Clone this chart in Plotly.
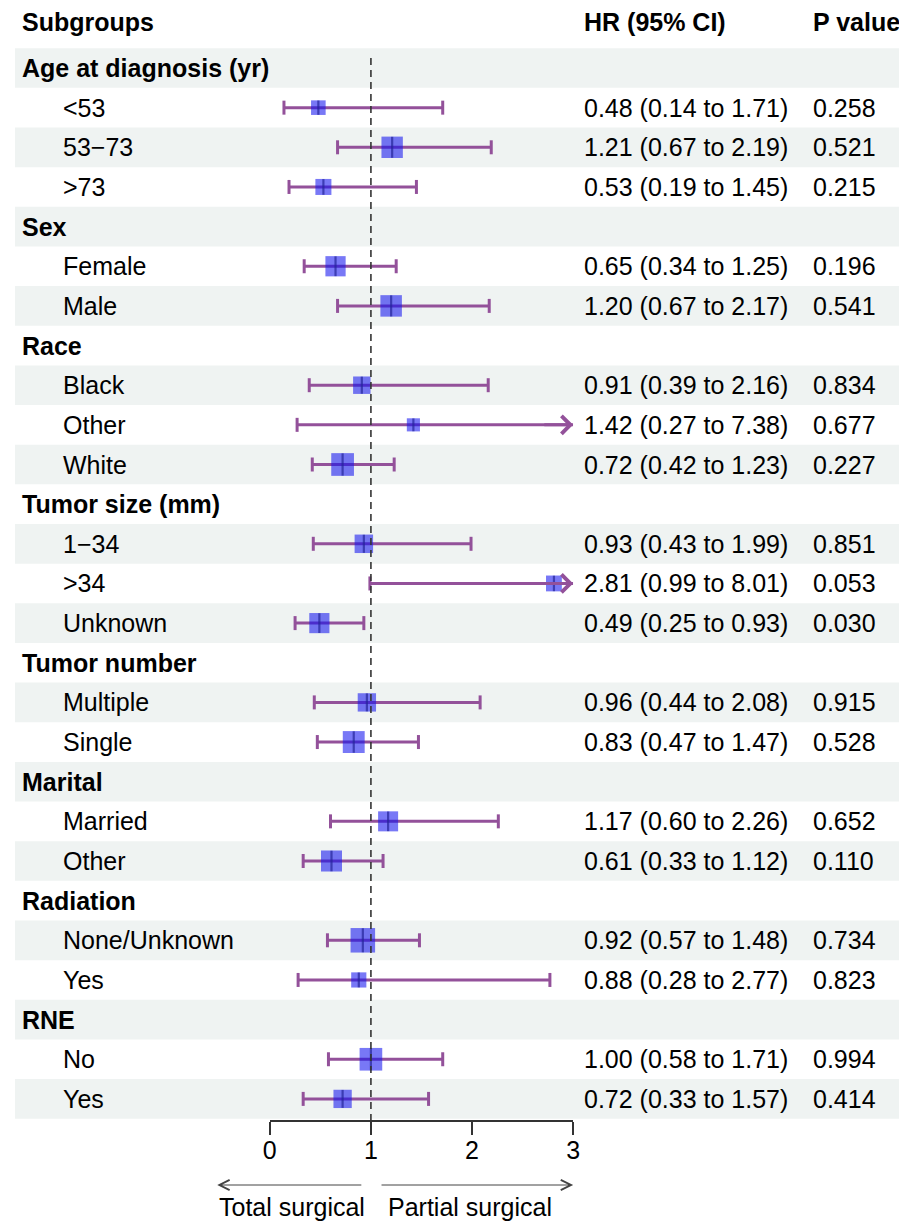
import math
import plotly.graph_objects as go

# ---------------- data ----------------
groups = ["Age at diagnosis (yr)", "Sex", "Race", "Tumor size (mm)",
          "Tumor number", "Marital", "Radiation", "RNE"]
subgroups = [["<53", "53\u221273", ">73"], ["Female", "Male"],
             ["Black", "Other", "White"], ["1\u221234", ">34", "Unknown"],
             ["Multiple", "Single"], ["Married", "Other"],
             ["None/Unknown", "Yes"], ["No", "Yes"]]
hr = [0.48, 1.21, 0.53, 0.65, 1.20, 0.91, 1.42, 0.72, 0.93, 2.81, 0.49,
      0.96, 0.83, 1.17, 0.61, 0.92, 0.88, 1.00, 0.72]
lo = [0.14, 0.67, 0.19, 0.34, 0.67, 0.39, 0.27, 0.42, 0.43, 0.99, 0.25,
      0.44, 0.47, 0.60, 0.33, 0.57, 0.28, 0.58, 0.33]
hi = [1.71, 2.19, 1.45, 1.25, 2.17, 2.16, 7.38, 1.23, 1.99, 8.01, 0.93,
      2.08, 1.47, 2.26, 1.12, 1.48, 2.77, 1.71, 1.57]
pval = [0.258, 0.521, 0.215, 0.196, 0.541, 0.834, 0.677, 0.227, 0.851, 0.053,
        0.030, 0.915, 0.528, 0.652, 0.110, 0.734, 0.823, 0.994, 0.414]
x_ticks = [0, 1, 2, 3]
ref_line = 1
left_label = "Total surgical"
right_label = "Partial surgical"

# ---------------- layout constants (figure pixels) ----------------
W, H = 907, 1213
YOFF = 8
ROW0_PX = 68.0 - YOFF         # pixel centre of first row
ROW_PX = 39.65                # row pitch
AXIS_PX = 1120.0 - YOFF       # pixel of the x axis line
X0_PX, X3_PX = 258.8, 566.9   # axis 0 and 3
XMAX = 3
COL_GROUP, COL_ITEM, COL_HR, COL_P = 4.7, 46.7, 576.0, 808.0
FONT = "Liberation Sans, Arial, Helvetica, sans-serif"
FS = 25
PURPLE = "#93519a"
BOX = "rgba(20,20,240,0.82)"
TICK = "#25259a"
BAND = "#eff3f2"

# build rows
rows = []  # (label, is_group, data_index)
k = 0
for g, subs in zip(groups, subgroups):
    rows.append((g, True, None))
    for s in subs:
        rows.append((s, False, k))
        k += 1
n_rows = len(rows)

y_top = (0 - ROW0_PX) / ROW_PX
y_bot = (AXIS_PX - ROW0_PX) / ROW_PX

fig = go.Figure()

# background bands
shapes = []
for i in range(n_rows):
    if i % 2 == 0:
        shapes.append(dict(type="rect", xref="paper", yref="y",
                           x0=0, x1=1, y0=i - 0.5, y1=i + 0.5,
                           fillcolor=BAND, line=dict(width=0), layer="below"))
# reference dashed line
shapes.append(dict(type="line", xref="x", yref="y", x0=ref_line, x1=ref_line,
                   y0=-0.25, y1=y_bot, line=dict(color="#333333", width=1.6,
                                                  dash="7px,5px"),
                   layer="above"))

# CI lines, caps, ticks, boxes
line_x, line_y = [], []
cap_x, cap_y = [], []
pt_y = []
box_size = []
annotations = []
for i, (lab, is_g, d) in enumerate(rows):
    if is_g:
        continue
    lo_d, hi_d = lo[d], hi[d]
    line_x += [lo_d, min(hi_d, XMAX), None]
    line_y += [i, i, None]
    cap_x.append(lo_d)
    cap_y.append(i)
    if hi_d <= XMAX:
        cap_x.append(hi_d)
        cap_y.append(i)
    else:
        annotations.append(dict(x=XMAX, y=i, xref="x", yref="y",
                                ax=XMAX - 0.3, ay=i, axref="x", ayref="y",
                                text="", showarrow=True, arrowhead=4,
                                arrowsize=1.15, arrowwidth=3,
                                arrowcolor=PURPLE))
    pt_y.append(i)
    se = (math.log(hi_d) - math.log(lo_d)) / (2 * 1.96)
    box_size.append(8.5 + 3.9 / se)

fig.add_trace(go.Scatter(x=line_x, y=line_y, mode="lines",
                         line=dict(color=PURPLE, width=3),
                         hoverinfo="skip", showlegend=False, cliponaxis=False))
fig.add_trace(go.Scatter(x=cap_x, y=cap_y, mode="markers",
                         marker=dict(symbol="line-ns", size=10,
                                     line=dict(color=PURPLE, width=3)),
                         hoverinfo="skip", showlegend=False, cliponaxis=False))
fig.add_trace(go.Scatter(x=hr, y=pt_y, mode="markers",
                         marker=dict(symbol="square", size=box_size, color=BOX,
                                     line=dict(width=0)),
                         showlegend=False, cliponaxis=False))
fig.add_trace(go.Scatter(x=hr, y=pt_y, mode="markers",
                         marker=dict(symbol="line-ns",
                                     size=[s * 0.7 for s in box_size],
                                     line=dict(color=TICK, width=2.2)),
                         hoverinfo="skip", showlegend=False, cliponaxis=False))

# text columns
def txt(x_px, y, s, bold=False, size=FS):
    annotations.append(dict(x=x_px / W, y=y, xref="paper", yref="y",
                            text=f"<b>{s}</b>" if bold else s,
                            showarrow=False, xanchor="left", yanchor="middle",
                            font=dict(family=FONT, size=size, color="black")))

head_y = (22 - YOFF - ROW0_PX) / ROW_PX
txt(COL_GROUP, head_y, "Subgroups", bold=True)
txt(COL_HR, head_y, "HR (95% CI)", bold=True)
txt(COL_P, head_y, "P value", bold=True)
for i, (lab, is_g, d) in enumerate(rows):
    if is_g:
        txt(COL_GROUP, i, lab, bold=True)
    else:
        txt(COL_ITEM, i, lab)
        txt(COL_HR, i, f"{hr[d]:.2f} ({lo[d]:.2f} to {hi[d]:.2f})")
        txt(COL_P, i, f"{pval[d]:.3f}")

# direction arrows below axis (positions in axis units)
arr_y = (H - (1185 - YOFF)) / H
annotations.append(dict(x=-0.52, y=arr_y, ax=0.92, ay=0,
                        xref="x", yref="paper", axref="x", ayref="pixel",
                        text="", showarrow=True, arrowhead=5, arrowsize=2,
                        arrowwidth=1, arrowcolor="#444444"))
annotations.append(dict(x=3.0, y=arr_y, ax=1.09, ay=0,
                        xref="x", yref="paper", axref="x", ayref="pixel",
                        text="", showarrow=True, arrowhead=5, arrowsize=2,
                        arrowwidth=1, arrowcolor="#444444"))
lab_y = (H - (1207 - YOFF)) / H
annotations.append(dict(x=0.22, y=lab_y, xref="x", yref="paper",
                        text=left_label, showarrow=False, xanchor="center",
                        yanchor="middle",
                        font=dict(family=FONT, size=FS, color="black")))
annotations.append(dict(x=1.98, y=lab_y, xref="x", yref="paper",
                        text=right_label, showarrow=False, xanchor="center",
                        yanchor="middle",
                        font=dict(family=FONT, size=FS, color="black")))

fig.update_layout(
    width=W, height=H, margin=dict(l=0, r=0, t=0, b=0),
    paper_bgcolor="white", plot_bgcolor="rgba(0,0,0,0)",
    shapes=shapes, annotations=annotations, showlegend=False,
    xaxis=dict(domain=[X0_PX / W, X3_PX / W], range=[0, XMAX],
               tickvals=x_ticks, ticktext=[str(t) for t in x_ticks],
               showgrid=False, zeroline=False, showline=True,
               linecolor="#333333", linewidth=1.5, ticks="outside",
               ticklen=13, tickwidth=1.5, tickcolor="#333333",
               ticklabelstandoff=-6,
               tickfont=dict(family=FONT, size=FS, color="black"),
               anchor="y", fixedrange=True),
    yaxis=dict(domain=[(H - AXIS_PX) / H, 1], range=[y_bot, y_top],
               visible=False, fixedrange=True),
)

fig.write_html("out.html")
